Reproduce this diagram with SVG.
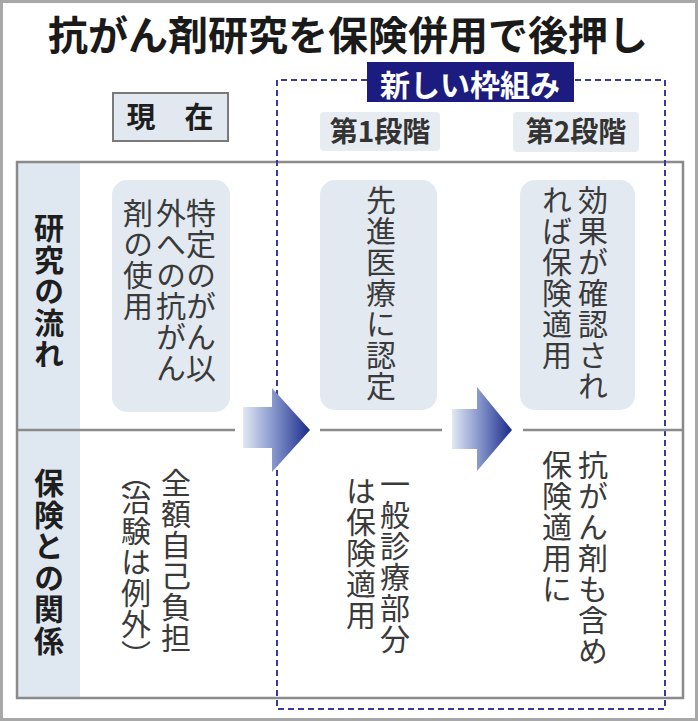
<svg xmlns="http://www.w3.org/2000/svg" width="698" height="721" viewBox="0 0 698 721">
  <defs>
    <linearGradient id="arrowGrad1" gradientUnits="userSpaceOnUse" x1="243" y1="0" x2="310" y2="0">
      <stop offset="0" stop-color="#e2e8f3"/>
      <stop offset="0.45" stop-color="#8797cc"/>
      <stop offset="1" stop-color="#1b2a8a"/>
    </linearGradient>
    <linearGradient id="arrowGrad2" gradientUnits="userSpaceOnUse" x1="452" y1="0" x2="512" y2="0">
      <stop offset="0" stop-color="#e2e8f3"/>
      <stop offset="0.45" stop-color="#8797cc"/>
      <stop offset="1" stop-color="#1b2a8a"/>
    </linearGradient>
    <style>
      .jp { font-family: "Noto Sans CJK JP", "Noto Sans CJK SC", sans-serif; }
      .title { font-size: 40px; font-weight: bold; fill: #1a1a1a; }
      .vhead { font-size: 30px; font-weight: bold; fill: #1e1e1e; writing-mode: vertical-rl; letter-spacing: 1.5px; }
      .vbody { font-size: 30px; fill: #3a3a3a; writing-mode: vertical-rl; letter-spacing: 1px; }
      .stage { font-size: 28px; font-weight: bold; fill: #333333; text-anchor: middle; }
      .cell { fill: #e2e9f1; }
      .frame { fill: none; stroke: #8a8a8a; stroke-width: 2.5; }
      .divider { stroke: #8a8a8a; stroke-width: 2.5; fill: none; }
      .dash { fill: none; stroke: #3a3a9c; stroke-width: 2; stroke-dasharray: 6 4; }
    </style>
  </defs>

  <rect x="0" y="0" width="698" height="721" fill="#ffffff"/>
  <rect x="1.5" y="1.5" width="695" height="718" fill="none" stroke="#a8a8a8" stroke-width="3"/>

  <g id="title">
    <text class="jp title" x="348" y="50" text-anchor="middle">抗がん剤研究を保険併用で後押し</text>
  </g>

  <g id="table">
    <rect x="17" y="162" width="63" height="536" fill="#dfe7f0"/>
    <rect class="frame" x="17" y="162" width="666" height="536"/>
  </g>

  <g id="new-framework">
    <path class="dash" d="M367,80 H277 V709 H665 V80 H574"/>
    <rect x="367" y="62" width="207" height="40" fill="#1c1c80"/>
    <text class="jp" x="470" y="96" text-anchor="middle" font-size="30" font-weight="bold" fill="#ffffff">新しい枠組み</text>
  </g>

  <g id="current-label">
    <rect x="113" y="93" width="115" height="48" fill="#e1e8ef" stroke="#7a7a7a" stroke-width="2"/>
    <text class="jp" x="170" y="128" text-anchor="middle" font-size="29" font-weight="bold" fill="#1e1e1e">現　在</text>
  </g>

  <g id="stage1-label">
    <rect x="320" y="112" width="120" height="39" rx="4" fill="#e7ecf2"/>
    <text class="jp stage" x="380" y="142">第1段階</text>
  </g>

  <g id="stage2-label">
    <rect x="513" y="112" width="126" height="40" rx="4" fill="#e7ecf2"/>
    <text class="jp stage" x="576" y="142">第2段階</text>
  </g>

  <g id="row1-header">
    <text class="jp vhead" x="49" y="213">研究の流れ</text>
  </g>

  <g id="row2-header">
    <text class="jp vhead" x="49" y="468">保険との関係</text>
  </g>

  <g id="current-research">
    <rect class="cell" x="112" y="180" width="118" height="232" rx="15"/>
    <text class="jp vbody" x="201" y="198">特定のがん以</text>
    <text class="jp vbody" x="171" y="198">外への抗がん</text>
    <text class="jp vbody" x="138" y="198">剤の使用</text>
  </g>

  <g id="stage1-research">
    <rect class="cell" x="320" y="180" width="117" height="230" rx="15"/>
    <text class="jp vbody" x="381" y="185">先進医療に認定</text>
  </g>

  <g id="stage2-research">
    <rect class="cell" x="520" y="180" width="115" height="230" rx="15"/>
    <text class="jp vbody" x="593" y="185">効果が確認され</text>
    <text class="jp vbody" x="557" y="185">れば保険適用</text>
  </g>

  <g id="current-insurance">
    <text class="jp vbody" x="176" y="468">全額自己負担</text>
    <text class="jp vbody" x="136" y="460 485 516 547 578 609 640">（治験は例外）</text>
  </g>

  <g id="stage1-insurance">
    <text class="jp vbody" x="395" y="469">一般診療部分</text>
    <text class="jp vbody" x="361" y="476">は保険適用</text>
  </g>

  <g id="stage2-insurance">
    <text class="jp vbody" x="593" y="450">抗がん剤も含め</text>
    <text class="jp vbody" x="557" y="450">保険適用に</text>
  </g>

  <g id="connectors">
    <path class="divider" d="M17,430 H235 M320,430 H442 M523,430 H683"/>
    <path d="M243,407 H272 V388 L310,430 L272,472 V448 H243 Z" fill="url(#arrowGrad1)"/>
    <path d="M452,409 H477 V387 L512,430 L477,471 V449 H452 Z" fill="url(#arrowGrad2)"/>
  </g>
</svg>
